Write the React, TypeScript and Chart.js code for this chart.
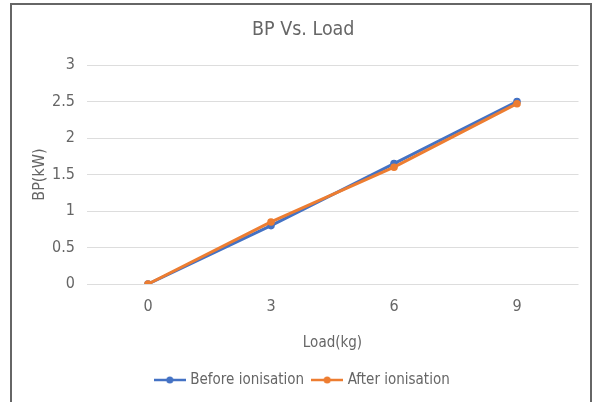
import React, { useEffect, useRef } from "react";
import { Chart, registerables } from "chart.js";

Chart.register(...registerables);

const categories = ["0", "3", "6", "9"];
const beforeValues = [0, 0.8, 1.65, 2.5];
const afterValues = [0, 0.85, 1.6, 2.47];
const seriesNames = ["Before ionisation", "After ionisation"];
const seriesColors = ["#4472C4", "#ED7D31"];
const chartTitle = "BP Vs. Load";
const xTitle = "Load(kg)";
const yTitle = "BP(kW)";
const yMin = 0;
const yMax = 3;
const yStep = 0.5;

const FONT = '"DejaVu Sans Condensed", "Liberation Sans", sans-serif';
const TEXT = "#666666";

function makeIcon(color: string): HTMLCanvasElement {
  const c = document.createElement("canvas");
  c.width = 32;
  c.height = 10;
  const ctx = c.getContext("2d")!;
  ctx.strokeStyle = color;
  ctx.lineWidth = 2.5;
  ctx.beginPath();
  ctx.moveTo(0, 5);
  ctx.lineTo(32, 5);
  ctx.stroke();
  ctx.fillStyle = color;
  ctx.beginPath();
  ctx.arc(16, 5, 3.5, 0, Math.PI * 2);
  ctx.fill();
  return c;
}

const shiftPlugin = {
  id: "shiftBoxes",
  afterLayout(chart: any) {
    const dx = 14;
    const boxes = [chart.titleBlock, chart.legend];
    boxes.forEach((b: any) => {
      if (b) {
        b.left += dx;
        b.right += dx;
      }
    });
  },
};

export default function App() {
  const ref = useRef<HTMLCanvasElement | null>(null);

  useEffect(() => {
    if (!ref.current) return;
    const icons = seriesColors.map(makeIcon);
    const chart = new Chart(ref.current, {
      type: "line",
      data: {
        labels: categories,
        datasets: [
          {
            label: seriesNames[0],
            data: beforeValues,
            borderColor: seriesColors[0],
            backgroundColor: seriesColors[0],
            borderWidth: 3,
            pointRadius: 3.8,
            pointBorderWidth: 0,
            pointHoverRadius: 3.8,
            order: 2,
          },
          {
            label: seriesNames[1],
            data: afterValues,
            borderColor: seriesColors[1],
            backgroundColor: seriesColors[1],
            borderWidth: 3,
            pointRadius: 3.8,
            pointBorderWidth: 0,
            pointHoverRadius: 3.8,
            order: 1,
          },
        ],
      },
      plugins: [shiftPlugin],
      options: {
        responsive: false,
        animation: false,
        layout: { padding: { left: 0, right: 16.5, top: 0, bottom: 4.5 } },
        plugins: {
          title: {
            display: true,
            text: chartTitle,
            color: TEXT,
            font: { family: FONT, size: 19.5, weight: "normal" },
            padding: { top: 18, bottom: 23.6 },
          },
          legend: {
            position: "bottom",
            labels: {
              color: TEXT,
              font: { family: FONT, size: 15 },
              usePointStyle: true,
              pointStyleWidth: 26,
              boxHeight: 17,
              padding: 10,
              generateLabels: (ch: any) =>
                ch.data.datasets.map((ds: any, i: number) => ({
                  text: ds.label,
                  fillStyle: ds.borderColor,
                  strokeStyle: ds.borderColor,
                  fontColor: TEXT,
                  lineWidth: 0,
                  pointStyle: icons[i],
                  hidden: false,
                  datasetIndex: i,
                })),
            },
          },
          tooltip: { enabled: false },
        },
        scales: {
          x: {
            offset: true,
            grid: { display: false, drawTicks: false },
            border: { display: false },
            ticks: {
              color: TEXT,
              font: { family: FONT, size: 16 },
              padding: 13,
            },
            title: {
              display: true,
              text: xTitle,
              color: TEXT,
              font: { family: FONT, size: 15 },
              padding: { top: 0, bottom: 10.5 },
            },
            afterFit: (s: any) => {
              s.height = 78.5;
            },
          },
          y: {
            min: yMin,
            max: yMax,
            grid: { color: "#dddddd", lineWidth: 1, drawTicks: false },
            border: { display: false },
            ticks: {
              stepSize: yStep,
              color: TEXT,
              font: { family: FONT, size: 16 },
              padding: 11.5,
              callback: (v: any) => String(Number(v)),
            },
            title: {
              display: true,
              text: yTitle,
              color: TEXT,
              font: { family: FONT, size: 16 },
              padding: { top: 30.4, bottom: 0 },
            },
            afterFit: (s: any) => {
              s.width = 86.5;
            },
          },
        },
      },
    });
    return () => chart.destroy();
  }, []);

  return (
    <div
      style={{
        position: "fixed",
        left: 0,
        top: 0,
        width: 595,
        height: 402,
        overflow: "hidden",
        background: "#ffffff",
      }}
    >
      <canvas
        ref={ref}
        width={595}
        height={402}
        style={{ position: "absolute", left: 0, top: 0, width: 595, height: 402 }}
      />
      <div
        style={{
          position: "absolute",
          left: 10,
          top: 3,
          width: 582,
          height: 460,
          boxSizing: "border-box",
          border: "2px solid #666666",
          pointerEvents: "none",
        }}
      />
    </div>
  );
}
